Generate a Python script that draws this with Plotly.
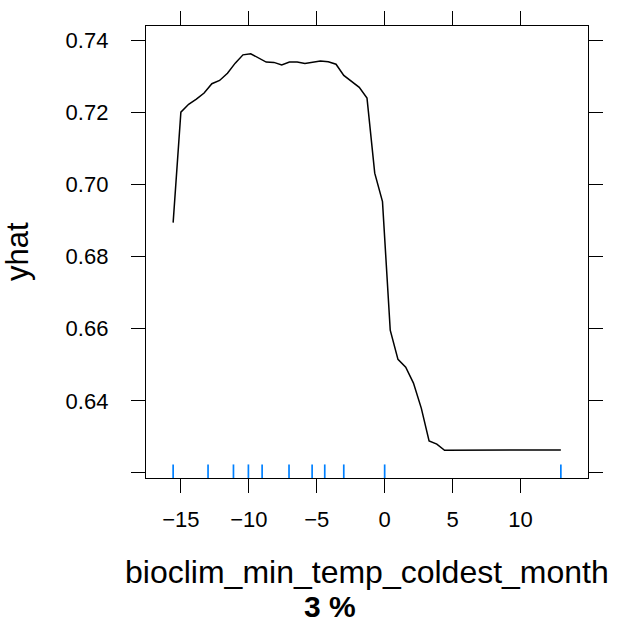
import plotly.graph_objects as go

# Partial dependence of yhat on bioclim_min_temp_coldest_month
x_vals = [-15.57, -15.00, -14.43, -13.86, -13.29, -12.72, -12.15, -11.57, -11.00, -10.43,
          -9.86, -9.29, -8.72, -8.15, -7.58, -7.01, -6.44, -5.87, -5.30, -4.73,
          -4.15, -3.58, -3.01, -2.44, -1.87, -1.30, -0.73, -0.16, 0.41, 0.98,
          1.55, 2.12, 2.70, 3.27, 3.84, 4.41, 4.98, 5.55, 6.12, 6.69,
          7.26, 7.83, 8.40, 8.98, 9.55, 10.12, 10.69, 11.26, 11.83, 12.40, 12.97]
yhat = [0.6894, 0.7200, 0.7222, 0.7236, 0.7253, 0.7279, 0.7288, 0.7308, 0.7336, 0.7359,
        0.7362, 0.7350, 0.7339, 0.7338, 0.7331, 0.7339, 0.7339, 0.7335, 0.7339, 0.7342,
        0.7340, 0.7333, 0.7302, 0.7285, 0.7269, 0.7239, 0.7031, 0.6952, 0.6596, 0.6515,
        0.6493, 0.6449, 0.6379, 0.6289, 0.6280, 0.6263, 0.6263, 0.6263, 0.6263, 0.6263,
        0.6263, 0.6263, 0.6263, 0.6263, 0.6263, 0.6264, 0.6264, 0.6264, 0.6264, 0.6264, 0.6264]
rug_x = [-15.57, -13.0, -11.13, -10.03, -9.02, -7.04, -5.34, -4.41, -3.01, 0.0, 12.97]

x_ticks = [-15, -10, -5, 0, 5, 10]
x_tick_labels = ["\u221215", "\u221210", "\u22125", "0", "5", "10"]
y_ticks = [0.62, 0.64, 0.66, 0.68, 0.70, 0.72, 0.74]
y_tick_labels = ["", "0.64", "0.66", "0.68", "0.70", "0.72", "0.74"]

x_title = "bioclim_min_temp_coldest_month"
sub_title = "3 %"
y_title = "yhat"

# lattice-style 7% padding
pad = 0.07
xmin, xmax = min(x_vals), max(x_vals)
ymin, ymax = min(yhat), max(yhat)
xr = [xmin - pad * (xmax - xmin), xmax + pad * (xmax - xmin)]
yr = [ymin - pad * (ymax - ymin), ymax + pad * (ymax - ymin)]

rug_len = 0.03 * (yr[1] - yr[0])
rx, ry = [], []
for v in rug_x:
    rx += [v, v, None]
    ry += [yr[0], yr[0] + rug_len, None]

FONT = "Liberation Sans, Arial, Helvetica, sans-serif"

fig = go.Figure()
fig.add_trace(go.Scatter(x=rx, y=ry, mode="lines",
                         line=dict(color="#0080ff", width=1.7), hoverinfo="skip"))
fig.add_trace(go.Scatter(x=x_vals, y=yhat, mode="lines",
                         line=dict(color="black", width=1.5)))

axis_common = dict(showline=True, linecolor="black", linewidth=1.3, mirror="ticks",
                   ticks="outside", ticklen=14, tickwidth=1.3, tickcolor="black",
                   showgrid=False, zeroline=False, automargin=False,
                   tickfont=dict(family=FONT, size=22, color="black"))

fig.update_xaxes(range=xr, tickvals=x_ticks, ticktext=x_tick_labels,
                 ticklabelstandoff=7, **axis_common)
fig.update_yaxes(range=yr, tickvals=y_ticks, ticktext=y_tick_labels,
                 ticklabelstandoff=18, **axis_common)

fig.add_annotation(text=x_title, xref="paper", yref="paper", x=0.5, y=-0.209,
                   xanchor="center", yanchor="middle", showarrow=False,
                   font=dict(family=FONT, size=32, color="black"))
fig.add_annotation(text="<b>" + sub_title + "</b>", xref="paper", yref="paper",
                   x=(330 - 146) / 442, y=(478.3 - 607) / 452.6,
                   xanchor="center", yanchor="middle", showarrow=False,
                   font=dict(family=FONT, size=30, color="black"))
fig.add_annotation(text=y_title, xref="paper", yref="paper", x=(17 - 146) / 442, y=0.5,
                   xanchor="center", yanchor="middle", textangle=-90, showarrow=False,
                   font=dict(family=FONT, size=31, color="black"))

fig.update_layout(width=624, height=626, showlegend=False,
                  margin=dict(l=146, r=36, t=26, b=148),
                  plot_bgcolor="white", paper_bgcolor="white")

fig.write_html("out.html", config={"displayModeBar": False},
               post_script="document.body.style.margin='0';document.body.style.padding='0';"
                           "document.documentElement.style.overflow='hidden';")
